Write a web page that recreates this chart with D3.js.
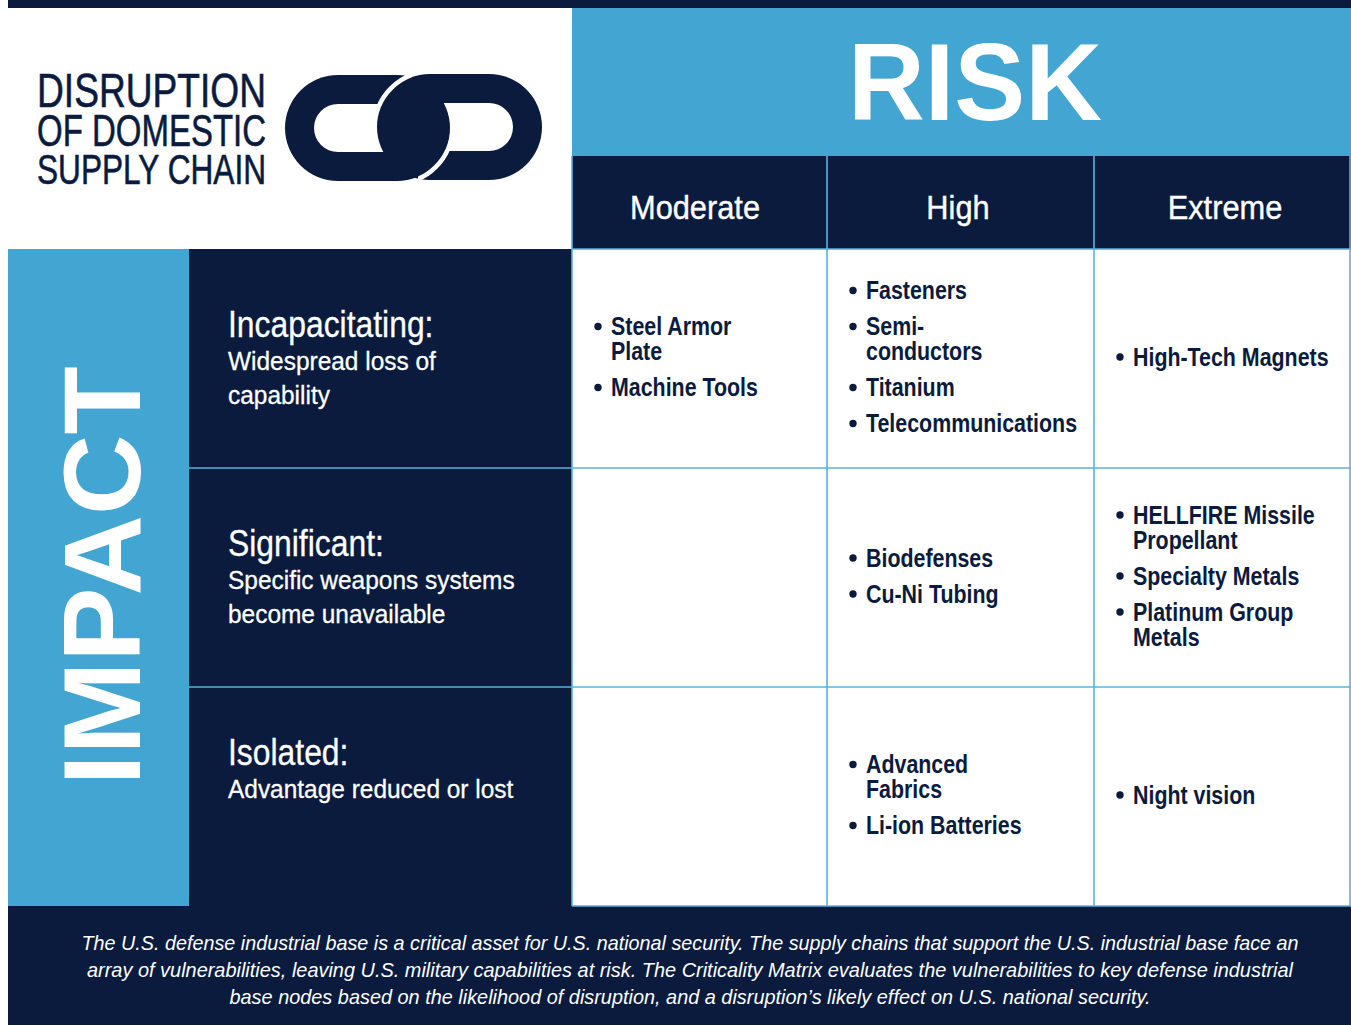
<!DOCTYPE html>
<html>
<head>
<meta charset="utf-8">
<script src="https://cdn.jsdelivr.net/npm/d3@7/dist/d3.min.js"></script>
<style>
  html, body { margin: 0; padding: 0; background: #ffffff; }
  svg { display: block; }
</style>
</head>
<body>
<svg id="chart" width="1351" height="1025"></svg>
<script>
// ---------------- DATA ----------------
const titleLines = ["DISRUPTION", "OF DOMESTIC", "SUPPLY CHAIN"];
const riskTitle = "RISK";
const impactTitle = "IMPACT";
const riskLevels = ["Moderate", "High", "Extreme"];
const impactLevels = ["Incapacitating:", "Significant:", "Isolated:"];
const impactDescriptions = [
  ["Widespread loss of", "capability"],
  ["Specific weapons systems", "become unavailable"],
  ["Advantage reduced or lost"]
];
// items per impact row, each item = its text lines
const moderateItems = [
  [["Steel Armor", "Plate"], ["Machine Tools"]],
  [],
  []
];
const highItems = [
  [["Fasteners"], ["Semi-", "conductors"], ["Titanium"], ["Telecommunications"]],
  [["Biodefenses"], ["Cu-Ni Tubing"]],
  [["Advanced", "Fabrics"], ["Li-ion Batteries"]]
];
const extremeItems = [
  [["High-Tech Magnets"]],
  [["HELLFIRE Missile", "Propellant"], ["Specialty Metals"], ["Platinum Group", "Metals"]],
  [["Night vision"]]
];
const footerLines = [
  "The U.S. defense industrial base is a critical asset for U.S. national security.  The supply chains that support the U.S. industrial base face an",
  "array of vulnerabilities, leaving U.S. military capabilities at risk.  The Criticality Matrix evaluates the vulnerabilities to key defense industrial",
  "base nodes based on the likelihood of disruption, and a disruption\u2019s likely effect on U.S. national security."
];

// ---------------- STYLE / LAYOUT ----------------
const NAVY = "#0a1b3e", BLUE = "#43a5d2", GRID = "#5cb0dd";
const FONT = "'Liberation Sans',Arial,Helvetica,sans-serif";

const svg = d3.select("#chart").attr("font-family", FONT);
const itemsByRisk = { "Moderate": moderateItems, "High": highItems, "Extreme": extremeItems };

const colEdges = d3.scaleOrdinal().domain(riskLevels).range([572, 827, 1094]);
const colCenter = d3.scaleOrdinal().domain(riskLevels).range([695, 958, 1225]);
const y = d3.scaleBand().domain(impactLevels).range([249, 906]).padding(0);

function fit(sel, target) {
  sel.each(function () {
    d3.select(this).attr("textLength", target).attr("lengthAdjust", "spacingAndGlyphs");
  });
}
function squeeze(sel, sx) {
  sel.each(function () {
    const w = this.getComputedTextLength();
    d3.select(this).attr("textLength", w * sx).attr("lengthAdjust", "spacingAndGlyphs");
  });
}

// backgrounds
svg.append("rect").attr("x", 8).attr("y", 0).attr("width", 1343).attr("height", 8).attr("fill", NAVY);
svg.append("rect").attr("x", 572).attr("y", 8).attr("width", 779).attr("height", 148).attr("fill", BLUE);
svg.append("rect").attr("x", 572).attr("y", 156).attr("width", 779).attr("height", 93).attr("fill", NAVY);
svg.append("rect").attr("x", 8).attr("y", 249).attr("width", 181).attr("height", 657).attr("fill", BLUE);
svg.append("rect").attr("x", 189).attr("y", 249).attr("width", 383).attr("height", 657).attr("fill", NAVY);
svg.append("rect").attr("x", 8).attr("y", 906).attr("width", 1343).attr("height", 119).attr("fill", NAVY);

// title
const titleSizes = [49, 45, 42];
const titleBase = [107, 146, 184];
titleLines.forEach((t, i) => {
  svg.append("text").attr("x", 37).attr("y", titleBase[i])
    .attr("font-size", titleSizes[i]).attr("fill", NAVY)
    .attr("stroke", NAVY).attr("stroke-width", 0.6)
    .text(t).call(fit, 229);
});

// chain logo
function stadium(x0, y0, x1, y1) {
  const r = (y1 - y0) / 2;
  const p = d3.path();
  p.moveTo(x0 + r, y0);
  p.lineTo(x1 - r, y0);
  p.arc(x1 - r, y0 + r, r, -Math.PI / 2, Math.PI / 2);
  p.lineTo(x0 + r, y1);
  p.arc(x0 + r, y0 + r, r, Math.PI / 2, 3 * Math.PI / 2);
  p.closePath();
  return p.toString();
}
const T = 29;
const L = [285, 75, 450, 181], R = [377, 74, 542, 180];
const leftOuter = stadium(L[0], L[1], L[2], L[3]);
const rightOuter = stadium(R[0], R[1], R[2], R[3]);
const leftHole = stadium(L[0] + T, L[1] + T, L[2] - T, L[3] - T);
const rightHole = stadium(R[0] + T, R[1] + T, R[2] - T, R[3] - T);
const leftHalo = stadium(L[0] - 2, L[1] - 2, L[2] + 2, L[3] + 2);
const rightHalo = stadium(R[0] - 2, R[1] - 2, R[2] + 2, R[3] + 2);
const defs = svg.append("defs");
const mL = defs.append("mask").attr("id", "maskL").attr("maskUnits", "userSpaceOnUse")
  .attr("x", 0).attr("y", 0).attr("width", 1351).attr("height", 1025);
mL.append("rect").attr("width", 1351).attr("height", 1025).attr("fill", "#fff");
mL.append("path").attr("d", rightOuter).attr("fill", "#000");
const mR = defs.append("mask").attr("id", "maskR").attr("maskUnits", "userSpaceOnUse")
  .attr("x", 0).attr("y", 0).attr("width", 1351).attr("height", 1025);
mR.append("rect").attr("width", 1351).attr("height", 1025).attr("fill", "#fff");
mR.append("path").attr("d", leftOuter).attr("fill", "#000");
defs.append("clipPath").attr("id", "clipTop").append("rect").attr("x", 360).attr("y", 70).attr("width", 52).attr("height", 36);
defs.append("clipPath").attr("id", "clipBot").append("rect").attr("x", 418).attr("y", 150).attr("width", 52).attr("height", 38);

const logo = svg.append("g");
logo.append("path").attr("d", leftOuter).attr("fill", NAVY);
logo.append("path").attr("d", rightOuter).attr("fill", NAVY);
logo.append("path").attr("d", leftHole).attr("fill", "#fff").attr("mask", "url(#maskL)");
logo.append("path").attr("d", rightHole).attr("fill", "#fff").attr("mask", "url(#maskR)");
logo.append("path").attr("d", rightHalo).attr("fill", "none").attr("stroke", "#fff").attr("stroke-width", 4.5)
  .attr("clip-path", "url(#clipTop)");
logo.append("path").attr("d", leftHalo).attr("fill", "none").attr("stroke", "#fff").attr("stroke-width", 4.5)
  .attr("clip-path", "url(#clipBot)");

// RISK
svg.append("text").attr("x", 975).attr("y", 120).attr("text-anchor", "middle")
  .attr("font-weight", "bold").attr("font-size", 110).attr("fill", "#fff")
  .text(riskTitle).call(fit, 254);

// IMPACT (vertical)
svg.append("text").attr("transform", "translate(140,576) rotate(-90)").attr("text-anchor", "middle")
  .attr("font-weight", "bold").attr("font-size", 110).attr("fill", "#fff")
  .text(impactTitle).call(fit, 419);

// column headers
svg.selectAll("text.colhead").data(riskLevels).join("text").attr("class", "colhead")
  .attr("x", d => colCenter(d)).attr("y", 219).attr("text-anchor", "middle")
  .attr("font-size", 34).attr("fill", "#fff").attr("stroke", "#fff").attr("stroke-width", 0.4)
  .text(d => d).call(squeeze, 0.905);

// row labels
impactLevels.forEach((lvl, i) => {
  const center = y(lvl) + y.bandwidth() / 2;
  const desc = impactDescriptions[i];
  const baseTitle = center + (desc.length === 2 ? -22 : -32);
  svg.append("text").attr("x", 228).attr("y", baseTitle)
    .attr("font-size", 36).attr("fill", "#fff").attr("stroke", "#fff").attr("stroke-width", 0.3)
    .text(lvl).call(squeeze, 0.885);
  desc.forEach((line, j) => {
    svg.append("text").attr("x", 228).attr("y", baseTitle + 33 + j * 34)
      .attr("font-size", 26).attr("fill", "#fff").attr("stroke", "#fff").attr("stroke-width", 0.3)
      .text(line).call(squeeze, 0.94);
  });
});

// grid lines
const gridG = svg.append("g").attr("stroke", GRID).attr("stroke-width", 1.6);
[572, 827, 1094, 1350].forEach(x => {
  gridG.append("line").attr("x1", x).attr("x2", x).attr("y1", 156).attr("y2", 906);
});
gridG.append("line").attr("x1", 572).attr("x2", 1351).attr("y1", 249).attr("y2", 249);
impactLevels.slice(1).forEach(l => {
  gridG.append("line").attr("x1", 189).attr("x2", 1351).attr("y1", y(l)).attr("y2", y(l));
});
gridG.append("line").attr("x1", 572).attr("x2", 1351).attr("y1", 906).attr("y2", 906);

// cell items
const LINE = 25, GAP = 36, CAP = 18;
riskLevels.forEach(risk => {
  impactLevels.forEach((lvl, i) => {
    const items = itemsByRisk[risk][i];
    if (!items.length) return;
    let span = 0;
    items.forEach((it, k) => { span += (it.length - 1) * LINE + (k > 0 ? GAP : 0); });
    const center = y(lvl) + y.bandwidth() / 2;
    let base = center - span / 2 + CAP / 2 - 2;
    const x0 = colEdges(risk);
    items.forEach((it, k) => {
      if (k > 0) base += GAP;
      svg.append("circle").attr("cx", x0 + 26).attr("cy", base - 8.5).attr("r", 3.7).attr("fill", NAVY);
      it.forEach((line, j) => {
        if (j > 0) base += LINE;
        svg.append("text").attr("x", x0 + 39).attr("y", base)
          .attr("font-weight", "bold").attr("font-size", 25)
          .attr("fill", NAVY).text(line).call(squeeze, 0.855);
      });
    });
  });
});

// footer
const footerTargets = [1217, 1206, 921];
footerLines.forEach((line, i) => {
  svg.append("text").attr("x", 690).attr("y", 950 + i * 27).attr("text-anchor", "middle")
    .attr("font-style", "italic").attr("font-size", 21).attr("fill", "#fff")
    .text(line).call(fit, footerTargets[i]);
});
</script>
</body>
</html>
